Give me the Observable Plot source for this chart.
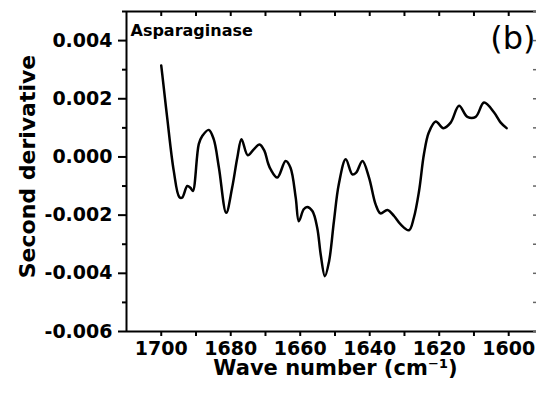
<!DOCTYPE html>
<html><head><meta charset="utf-8">
<script src="https://cdn.jsdelivr.net/npm/d3@7"></script>
<script src="https://cdn.jsdelivr.net/npm/@observablehq/plot@0.6"></script>
<style>html,body{margin:0;padding:0;background:#fff}</style>
</head><body><div id="chart"></div>
<script>
const wavenumber = [1700.0, 1699.6, 1698.3, 1696.4, 1694.8, 1694.0, 1692.5, 1691.6, 1690.9, 1689.2,
  1688.2, 1686.3, 1684.9, 1683.4, 1681.3, 1679.6, 1678.1, 1676.9, 1675.1, 1673.3,
  1671.7, 1670.3, 1669.3, 1668.5, 1666.6, 1664.2, 1662.8, 1661.3, 1660.4, 1659.0,
  1658.0, 1656.5, 1655.1, 1654.1, 1652.9, 1651.7, 1650.3, 1648.9, 1646.9, 1645.0,
  1643.9, 1642.1, 1640.2, 1638.3, 1636.9, 1634.9, 1633.0, 1631.1, 1628.7, 1627.3,
  1625.8, 1624.4, 1623.0, 1621.0, 1618.8, 1616.7, 1614.3, 1611.9, 1609.5, 1607.1,
  1604.2, 1602.3, 1600.6];
const secondDerivative = [0.00314, 0.00273, 0.00136, -0.00048, -0.00138, -0.00140, -0.00100, -0.00106, -0.00117, 0.00044,
  0.00072, 0.00093, 0.00061, -0.00037, -0.00192, -0.00106, -0.00002, 0.00061, 0.00006, 0.00027,
  0.00043, 0.00021, -0.00020, -0.00043, -0.00071, -0.00014, -0.00037, -0.00140, -0.00221, -0.00180,
  -0.00172, -0.00186, -0.00244, -0.00336, -0.00410, -0.00359, -0.00221, -0.00094, -0.00008, -0.00060,
  -0.00054, -0.00014, -0.00071, -0.00163, -0.00194, -0.00182, -0.00203, -0.00232, -0.00252, -0.00209,
  -0.00117, 0.00009, 0.00084, 0.00122, 0.00099, 0.00118, 0.00176, 0.00138, 0.00138, 0.00187,
  0.00153, 0.00118, 0.00099];
const xTicks = [1700, 1690, 1680, 1670, 1660, 1650, 1640, 1630, 1620, 1610, 1600];
const xLabelTicks = [1700, 1680, 1660, 1640, 1620, 1600];
const yMajorTicks = [-0.006, -0.004, -0.002, 0, 0.002, 0.004];
const yMinorTicks = [-0.005, -0.003, -0.001, 0.001, 0.003, 0.005];
const xDomain = [1710, 1592];
const yDomain = [-0.006, 0.005];
const title = "Asparaginase";
const panelLabel = "(b)";
const xLabel = "Wave number (cm\u207B\u00B9)";
const yLabel = "Second derivative";

const data = wavenumber.map((w, i) => ({w, v: secondDerivative[i]}));

const chart = Plot.plot({
  width: 536, height: 404,
  marginLeft: 126, marginRight: 0, marginTop: 11, marginBottom: 73,
  x: {domain: xDomain},
  y: {domain: yDomain},
  style: {fontFamily: "DejaVu Sans", fontWeight: "bold", fontSize: "19px", background: "white", color: "black", overflow: "visible"},
  marks: [
    Plot.ruleY([yDomain[1]], {strokeWidth: 2}),
    Plot.ruleY([yDomain[0]], {strokeWidth: 2}),
    Plot.ruleX([xDomain[0]], {strokeWidth: 2}),
    Plot.tickX(xTicks, {x: d => d, insetBottom: 315, strokeWidth: 2}),
    Plot.tickY([...yMajorTicks, ...yMinorTicks], {y: d => d, insetLeft: 407, stroke: "#666", strokeWidth: 1.5}),
    Plot.axisX(xTicks, {anchor: "bottom", tickSize: 5, tickPadding: 5, strokeWidth: 2, label: null, text: null}),
    Plot.axisX(xLabelTicks, {anchor: "bottom", tickSize: 0, tickPadding: 10, label: null,
      tickFormat: d => String(d), fontSize: 19, fontWeight: "bold"}),
    Plot.axisY(yMajorTicks, {anchor: "left", tickSize: 8, tickPadding: 6, strokeWidth: 2, label: null,
      tickFormat: d => d.toFixed(3), fontSize: 19, fontWeight: "bold"}),
    Plot.axisY(yMinorTicks, {anchor: "left", tickSize: 4, strokeWidth: 2, label: null, text: null}),
    Plot.line(data, {x: "w", y: "v", curve: "catmull-rom", stroke: "black", strokeWidth: 2.5}),
    Plot.text([title], {text: d => d, frameAnchor: "top-left", textAnchor: "start", lineAnchor: "top", dx: 4, dy: 13, fontSize: 16, fontWeight: "bold"}),
    Plot.text([panelLabel], {text: d => d, frameAnchor: "top-right", textAnchor: "end", lineAnchor: "top", dx: -1, dy: 15, fontSize: 32, fontWeight: "normal"}),
    Plot.text([xLabel], {text: d => d, frameAnchor: "bottom", textAnchor: "middle", lineAnchor: "bottom", dx: 4, dy: 43, fontSize: 21, fontWeight: "bold"}),
    Plot.text([yLabel], {text: d => d, frameAnchor: "left", textAnchor: "middle", rotate: -90, lineAnchor: "bottom", dx: -92, dy: -5, fontSize: 22, fontWeight: "bold"})
  ]
});
document.getElementById("chart").appendChild(chart);
</script>
</body></html>
